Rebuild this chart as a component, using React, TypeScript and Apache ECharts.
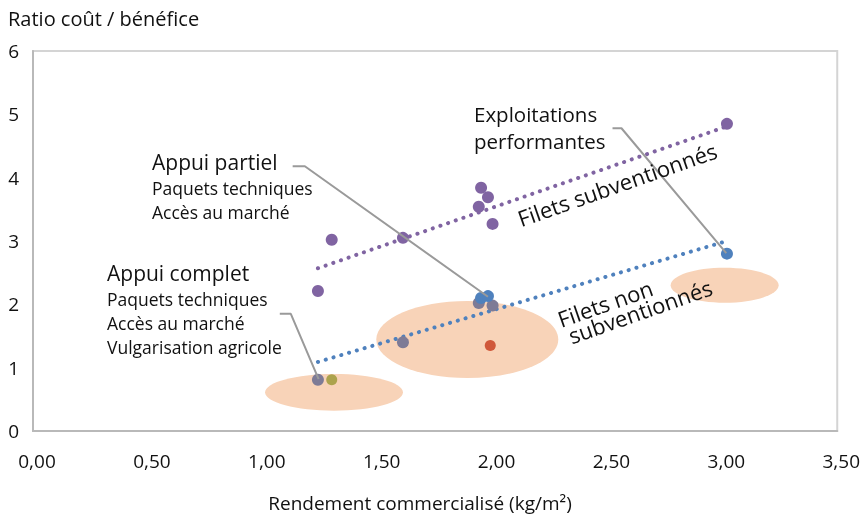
import React, { useEffect, useRef } from "react";
import * as echarts from "echarts";

// ---- Data ----
const xTickValues = [0, 0.5, 1, 1.5, 2, 2.5, 3, 3.5];
const yTickValues = [0, 1, 2, 3, 4, 5, 6];

// Filets subventionnés (purple)
const subventionnes: number[][] = [
  [1.24, 2.21],
  [1.30, 3.02],
  [1.61, 3.05],
  [1.94, 3.54],
  [1.95, 3.84],
  [1.98, 3.69],
  [2.0, 3.27],
  [3.02, 4.85],
];
// Filets non subventionnés
const nonSubBlue: number[][] = [
  [1.95, 2.1],
  [1.98, 2.13],
  [3.02, 2.8],
];
const nonSubGray: number[][] = [
  [1.24, 0.81],
  [1.61, 1.4],
  [1.94, 2.02],
  [2.0, 1.98],
];
const nonSubOlive: number[][] = [[1.3, 0.81]];
const nonSubRed: number[][] = [[1.99, 1.35]];

// Linear trend lines (start / end)
const trendSub: number[][] = [
  [1.24, 2.57],
  [3.02, 4.81],
];
const trendNonSub: number[][] = [
  [1.24, 1.09],
  [3.02, 3.0],
];

// Highlight zones: [centerX, centerY, radiusX, radiusY] in data units
const zones: number[][] = [
  [1.31, 0.61, 0.3, 0.29],
  [1.89, 1.445, 0.396, 0.608],
  [3.01, 2.3, 0.235, 0.276],
];

// Leader lines (data coordinates)
const leaderPartiel: number[][] = [
  [1.13, 4.18],
  [1.183, 4.18],
  [1.98, 2.12],
];
const leaderComplet: number[][] = [
  [1.074, 1.85],
  [1.122, 1.85],
  [1.243, 0.82],
];
const leaderPerf: number[][] = [
  [2.522, 4.78],
  [2.561, 4.78],
  [3.017, 2.81],
];

const FONT = "'Open Sans', sans-serif";
const TXT = "#111111";
const PURPLE = "#8064a2";
const BLUE = "#4f81bd";
const GRAY = "#7e7b96";
const OLIVE = "#aca34d";
const RED = "#d0583a";
const ZONE = "#f8d3b8";
const LEADER = "#9a9a9a";

export default function App() {
  const ref = useRef<HTMLDivElement>(null);
  useEffect(() => {
    if (!ref.current) return;
    const chart = echarts.init(ref.current, undefined, { renderer: "svg" });

    const scatter = (name: string, data: number[][], color: string, size: number) => ({
      type: "scatter",
      name,
      data,
      symbolSize: size,
      itemStyle: { color, opacity: 1 },
      z: 5,
      silent: true,
    });
    const leader = (data: number[][]) => ({
      type: "line",
      data,
      symbol: "none",
      lineStyle: { color: LEADER, width: 2 },
      z: 6,
      silent: true,
    });
    const trend = (data: number[][], color: string) => ({
      type: "line",
      data,
      symbol: "none",
      lineStyle: { color, width: 4, type: [0.1, 8], cap: "round" },
      z: 3,
      silent: true,
    });

    const rot = (19.4 * Math.PI) / 180;
    const label = (x: number, y: number, text: string, size: number, extra: any = {}) => ({
      type: "text",
      x,
      y,
      z: 100,
      ...extra,
      style: { text, font: `${size}px ${FONT}`, fill: TXT, align: "left", verticalAlign: "middle", ...(extra.style || {}) },
    });

    chart.setOption({
      animation: false,
      grid: {
        left: 33,
        right: 25,
        top: 51,
        bottom: 86,
        show: true,
        borderColor: "#d4d4d4",
        borderWidth: 2,
        containLabel: false,
      },
      xAxis: {
        type: "value",
        min: xTickValues[0],
        max: xTickValues[xTickValues.length - 1],
        interval: 0.5,
        axisLine: { show: true, onZero: false, lineStyle: { color: "#b9b9b9", width: 2 } },
        axisTick: { show: false },
        splitLine: { show: false },
        axisLabel: {
          formatter: (v: number) => v.toFixed(2).replace(".", ","),
          fontFamily: FONT,
          fontSize: 19,
          color: TXT,
          margin: 20,
          padding: [0, 0, 0, 8],
        },
      },
      yAxis: {
        type: "value",
        min: yTickValues[0],
        max: yTickValues[yTickValues.length - 1],
        interval: 1,
        axisLine: { show: true, onZero: false, lineStyle: { color: "#b9b9b9", width: 2 } },
        axisTick: { show: false },
        splitLine: { show: false },
        axisLabel: {
          fontFamily: FONT,
          fontSize: 19,
          color: TXT,
          margin: 14,
        },
      },
      graphic: [
        label(8, 18, "Ratio coût / bénéfice", 20),
        label(420, 503, "Rendement commercialisé (kg/m²)", 19, { style: { align: "center" } }),
        label(152, 162, "Appui partiel", 21),
        label(152, 188, "Paquets techniques", 17.5),
        label(152, 212, "Accès au marché", 17.5),
        label(107, 273, "Appui complet", 21),
        label(107, 299, "Paquets techniques", 17.5),
        label(107, 323, "Accès au marché", 17.5),
        label(107, 347, "Vulgarisation agricole", 17.5),
        label(474, 114, "Exploitations", 20.5),
        label(474, 141, "performantes", 20.5),
        label(617, 184, "Filets subventionnés", 22, { rotation: rot, style: { align: "center" } }),
        label(605, 303, "Filets non", 22, { rotation: rot, style: { align: "center" } }),
        label(640, 311, "subventionnés", 22, { rotation: rot, style: { align: "center" } }),
      ],
      series: [
        {
          type: "custom",
          name: "zones",
          data: zones,
          encode: { x: 0, y: 1 },
          clip: false,
          silent: true,
          z: 1,
          renderItem: (_params: any, api: any) => {
            const c = api.coord([api.value(0), api.value(1)]);
            const s = api.size([api.value(2), api.value(3)]);
            return {
              type: "ellipse",
              shape: { cx: c[0], cy: c[1], rx: s[0], ry: s[1] },
              style: { fill: ZONE },
            };
          },
        },
        trend(trendSub, PURPLE),
        trend(trendNonSub, BLUE),
        scatter("Filets subventionnés", subventionnes, PURPLE, 12),
        scatter("Non subventionnés", nonSubGray, GRAY, 12),
        scatter("Non subventionnés (bleu)", nonSubBlue, BLUE, 12),
        scatter("Non subventionnés (olive)", nonSubOlive, OLIVE, 11),
        scatter("Non subventionnés (rouge)", nonSubRed, RED, 11),
        leader(leaderPartiel),
        leader(leaderComplet),
        leader(leaderPerf),
      ],
    });
    return () => chart.dispose();
  }, []);
  return <div ref={ref} style={{ position: "fixed", left: 0, top: 0, width: 863, height: 517 }} />;
}
